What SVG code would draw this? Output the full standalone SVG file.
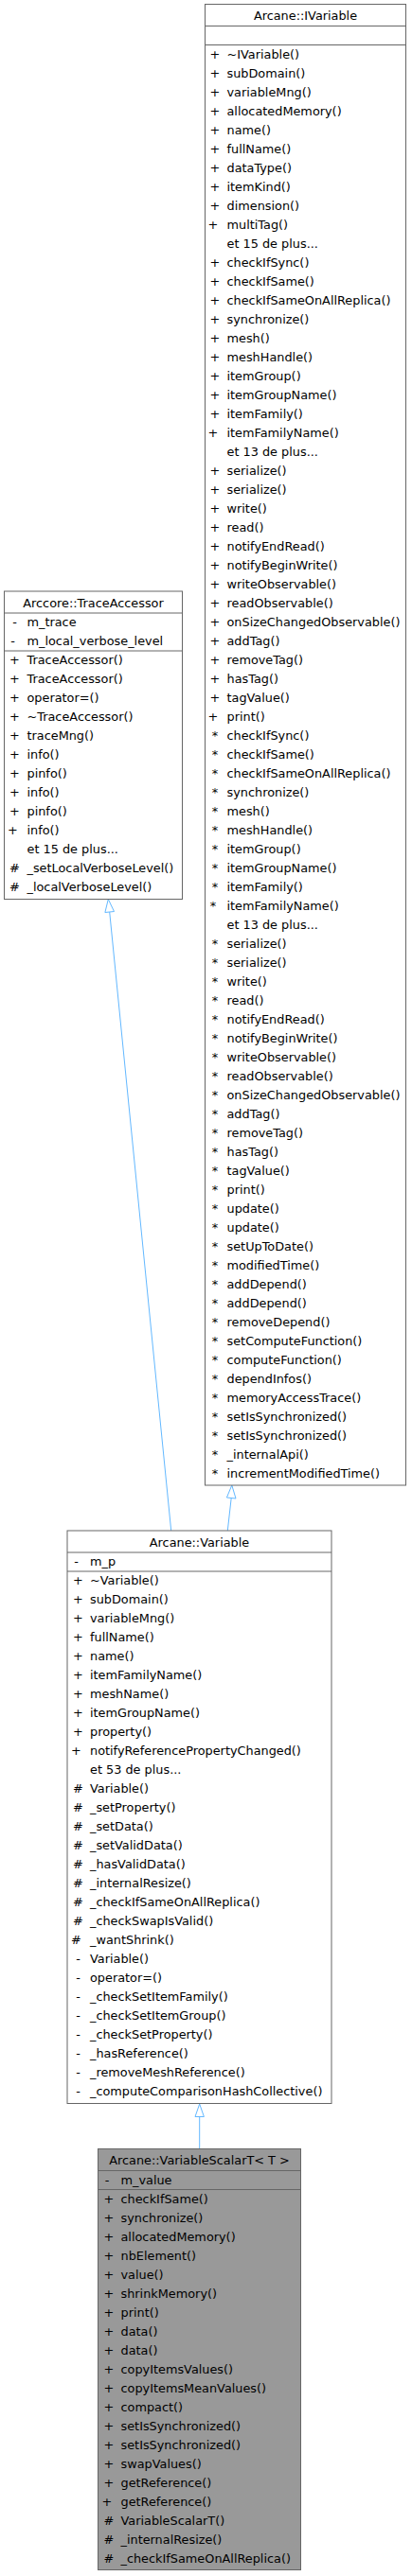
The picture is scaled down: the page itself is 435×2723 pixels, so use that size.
<svg xmlns="http://www.w3.org/2000/svg" width="435" height="2723" viewBox="0 0 435 2723">
<style>
text{font-family:"DejaVu Sans","Noto Sans",sans-serif;font-size:12.85px;fill:#000}
.t{text-anchor:middle}
.s{text-anchor:middle}
.box{fill:#fff;stroke:#666;stroke-width:1}
.cur{fill:#999;stroke:#666;stroke-width:1}
.sep{stroke:#666;stroke-width:1;fill:none}
.edge{stroke:#63b8ff;stroke-width:1;fill:none}
.head{stroke:#63b8ff;stroke-width:1;fill:#fff}
</style>
<rect width="435" height="2723" fill="#fff"/>
<g id="connectors">
<path class="edge" d="M180.7,1618 L115.7,964"/>
<polygon class="head" points="114.3,950.5 120.5,963.5 110.9,964.5"/>
<path class="edge" d="M240.3,1618 L244.2,1583.5"/>
<polygon class="head" points="244.8,1570 249.0,1584 239.4,1583"/>
<path class="edge" d="M210.7,2271.5 L210.7,2237.5"/>
<polygon class="head" points="210.7,2224 215.4,2237.5 206,2237.5"/>
</g>
<g id="node-IVariable">
<rect class="box" x="216.5" y="4.5" width="212" height="1565.5"/>
<path class="sep" d="M216.5,27.5H428.5M216.5,47.5H428.5"/>
<text class="t" x="322.5" y="21">Arcane::IVariable</text>
<text class="s">
<tspan x="227" y="61.5">+</tspan><tspan x="227" y="81.5">+</tspan><tspan x="227" y="101.5">+</tspan><tspan x="227" y="121.5">+</tspan><tspan x="227" y="141.5">+</tspan><tspan x="227" y="161.5">+</tspan><tspan x="227" y="181.5">+</tspan><tspan x="227" y="201.5">+</tspan><tspan x="227" y="221.5">+</tspan><tspan x="227" y="241.5">+</tspan>
<tspan x="227" y="281.5">+</tspan><tspan x="227" y="301.5">+</tspan><tspan x="227" y="321.5">+</tspan><tspan x="227" y="341.5">+</tspan><tspan x="227" y="361.5">+</tspan><tspan x="227" y="381.5">+</tspan><tspan x="227" y="401.5">+</tspan><tspan x="227" y="421.5">+</tspan><tspan x="227" y="441.5">+</tspan><tspan x="227" y="461.5">+</tspan>
<tspan x="227" y="501.5">+</tspan><tspan x="227" y="521.5">+</tspan><tspan x="227" y="541.5">+</tspan><tspan x="227" y="561.5">+</tspan><tspan x="227" y="581.5">+</tspan><tspan x="227" y="601.5">+</tspan><tspan x="227" y="621.5">+</tspan><tspan x="227" y="641.5">+</tspan><tspan x="227" y="661.5">+</tspan><tspan x="227" y="681.5">+</tspan><tspan x="227" y="701.5">+</tspan><tspan x="227" y="721.5">+</tspan><tspan x="227" y="741.5">+</tspan><tspan x="227" y="761.5">+</tspan>
<tspan x="227" y="781.5">*</tspan><tspan x="227" y="801.5">*</tspan><tspan x="227" y="821.5">*</tspan><tspan x="227" y="841.5">*</tspan><tspan x="227" y="861.5">*</tspan><tspan x="227" y="881.5">*</tspan><tspan x="227" y="901.5">*</tspan><tspan x="227" y="921.5">*</tspan><tspan x="227" y="941.5">*</tspan><tspan x="227" y="961.5">*</tspan>
<tspan x="227" y="1001.5">*</tspan><tspan x="227" y="1021.5">*</tspan><tspan x="227" y="1041.5">*</tspan><tspan x="227" y="1061.5">*</tspan><tspan x="227" y="1081.5">*</tspan><tspan x="227" y="1101.5">*</tspan><tspan x="227" y="1121.5">*</tspan><tspan x="227" y="1141.5">*</tspan><tspan x="227" y="1161.5">*</tspan><tspan x="227" y="1181.5">*</tspan><tspan x="227" y="1201.5">*</tspan><tspan x="227" y="1221.5">*</tspan><tspan x="227" y="1241.5">*</tspan><tspan x="227" y="1261.5">*</tspan><tspan x="227" y="1281.5">*</tspan><tspan x="227" y="1301.5">*</tspan><tspan x="227" y="1321.5">*</tspan><tspan x="227" y="1341.5">*</tspan><tspan x="227" y="1361.5">*</tspan><tspan x="227" y="1381.5">*</tspan><tspan x="227" y="1401.5">*</tspan><tspan x="227" y="1421.5">*</tspan><tspan x="227" y="1441.5">*</tspan><tspan x="227" y="1461.5">*</tspan><tspan x="227" y="1481.5">*</tspan><tspan x="227" y="1501.5">*</tspan><tspan x="227" y="1521.5">*</tspan><tspan x="227" y="1541.5">*</tspan><tspan x="227" y="1561.5">*</tspan>
</text>
<text>
<tspan x="239.5" y="61.5">~IVariable()</tspan>
<tspan x="239.5" y="81.5">subDomain()</tspan>
<tspan x="239.5" y="101.5">variableMng()</tspan>
<tspan x="239.5" y="121.5">allocatedMemory()</tspan>
<tspan x="239.5" y="141.5">name()</tspan>
<tspan x="239.5" y="161.5">fullName()</tspan>
<tspan x="239.5" y="181.5">dataType()</tspan>
<tspan x="239.5" y="201.5">itemKind()</tspan>
<tspan x="239.5" y="221.5">dimension()</tspan>
<tspan x="239.5" y="241.5">multiTag()</tspan>
<tspan x="239.5" y="261.5">et 15 de plus...</tspan>
<tspan x="239.5" y="281.5">checkIfSync()</tspan>
<tspan x="239.5" y="301.5">checkIfSame()</tspan>
<tspan x="239.5" y="321.5">checkIfSameOnAllReplica()</tspan>
<tspan x="239.5" y="341.5">synchronize()</tspan>
<tspan x="239.5" y="361.5">mesh()</tspan>
<tspan x="239.5" y="381.5">meshHandle()</tspan>
<tspan x="239.5" y="401.5">itemGroup()</tspan>
<tspan x="239.5" y="421.5">itemGroupName()</tspan>
<tspan x="239.5" y="441.5">itemFamily()</tspan>
<tspan x="239.5" y="461.5">itemFamilyName()</tspan>
<tspan x="239.5" y="481.5">et 13 de plus...</tspan>
<tspan x="239.5" y="501.5">serialize()</tspan>
<tspan x="239.5" y="521.5">serialize()</tspan>
<tspan x="239.5" y="541.5">write()</tspan>
<tspan x="239.5" y="561.5">read()</tspan>
<tspan x="239.5" y="581.5">notifyEndRead()</tspan>
<tspan x="239.5" y="601.5">notifyBeginWrite()</tspan>
<tspan x="239.5" y="621.5">writeObservable()</tspan>
<tspan x="239.5" y="641.5">readObservable()</tspan>
<tspan x="239.5" y="661.5">onSizeChangedObservable()</tspan>
<tspan x="239.5" y="681.5">addTag()</tspan>
<tspan x="239.5" y="701.5">removeTag()</tspan>
<tspan x="239.5" y="721.5">hasTag()</tspan>
<tspan x="239.5" y="741.5">tagValue()</tspan>
<tspan x="239.5" y="761.5">print()</tspan>
<tspan x="239.5" y="781.5">checkIfSync()</tspan>
<tspan x="239.5" y="801.5">checkIfSame()</tspan>
<tspan x="239.5" y="821.5">checkIfSameOnAllReplica()</tspan>
<tspan x="239.5" y="841.5">synchronize()</tspan>
<tspan x="239.5" y="861.5">mesh()</tspan>
<tspan x="239.5" y="881.5">meshHandle()</tspan>
<tspan x="239.5" y="901.5">itemGroup()</tspan>
<tspan x="239.5" y="921.5">itemGroupName()</tspan>
<tspan x="239.5" y="941.5">itemFamily()</tspan>
<tspan x="239.5" y="961.5">itemFamilyName()</tspan>
<tspan x="239.5" y="981.5">et 13 de plus...</tspan>
<tspan x="239.5" y="1001.5">serialize()</tspan>
<tspan x="239.5" y="1021.5">serialize()</tspan>
<tspan x="239.5" y="1041.5">write()</tspan>
<tspan x="239.5" y="1061.5">read()</tspan>
<tspan x="239.5" y="1081.5">notifyEndRead()</tspan>
<tspan x="239.5" y="1101.5">notifyBeginWrite()</tspan>
<tspan x="239.5" y="1121.5">writeObservable()</tspan>
<tspan x="239.5" y="1141.5">readObservable()</tspan>
<tspan x="239.5" y="1161.5">onSizeChangedObservable()</tspan>
<tspan x="239.5" y="1181.5">addTag()</tspan>
<tspan x="239.5" y="1201.5">removeTag()</tspan>
<tspan x="239.5" y="1221.5">hasTag()</tspan>
<tspan x="239.5" y="1241.5">tagValue()</tspan>
<tspan x="239.5" y="1261.5">print()</tspan>
<tspan x="239.5" y="1281.5">update()</tspan>
<tspan x="239.5" y="1301.5">update()</tspan>
<tspan x="239.5" y="1321.5">setUpToDate()</tspan>
<tspan x="239.5" y="1341.5">modifiedTime()</tspan>
<tspan x="239.5" y="1361.5">addDepend()</tspan>
<tspan x="239.5" y="1381.5">addDepend()</tspan>
<tspan x="239.5" y="1401.5">removeDepend()</tspan>
<tspan x="239.5" y="1421.5">setComputeFunction()</tspan>
<tspan x="239.5" y="1441.5">computeFunction()</tspan>
<tspan x="239.5" y="1461.5">dependInfos()</tspan>
<tspan x="239.5" y="1481.5">memoryAccessTrace()</tspan>
<tspan x="239.5" y="1501.5">setIsSynchronized()</tspan>
<tspan x="239.5" y="1521.5">setIsSynchronized()</tspan>
<tspan x="239.5" y="1541.5">_internalApi()</tspan>
<tspan x="239.5" y="1561.5">incrementModifiedTime()</tspan>
</text>
</g>
<g id="node-TraceAccessor">
<rect class="box" x="4.5" y="625" width="188" height="325.5"/>
<path class="sep" d="M4.5,648H192.5M4.5,688H192.5"/>
<text class="t" x="98.5" y="642">Arccore::TraceAccessor</text>
<text class="s">
<tspan x="15.5" y="662">-</tspan><tspan x="15.5" y="682">-</tspan>
<tspan x="15.5" y="702">+</tspan><tspan x="15.5" y="722">+</tspan><tspan x="15.5" y="742">+</tspan><tspan x="15.5" y="762">+</tspan><tspan x="15.5" y="782">+</tspan><tspan x="15.5" y="802">+</tspan><tspan x="15.5" y="822">+</tspan><tspan x="15.5" y="842">+</tspan><tspan x="15.5" y="862">+</tspan><tspan x="15.5" y="882">+</tspan>
<tspan x="15.5" y="922">#</tspan><tspan x="15.5" y="942">#</tspan>
</text>
<text>
<tspan x="28.5" y="662">m_trace</tspan>
<tspan x="28.5" y="682">m_local_verbose_level</tspan>
<tspan x="28.5" y="702">TraceAccessor()</tspan>
<tspan x="28.5" y="722">TraceAccessor()</tspan>
<tspan x="28.5" y="742">operator=()</tspan>
<tspan x="28.5" y="762">~TraceAccessor()</tspan>
<tspan x="28.5" y="782">traceMng()</tspan>
<tspan x="28.5" y="802">info()</tspan>
<tspan x="28.5" y="822">pinfo()</tspan>
<tspan x="28.5" y="842">info()</tspan>
<tspan x="28.5" y="862">pinfo()</tspan>
<tspan x="28.5" y="882">info()</tspan>
<tspan x="28.5" y="902">et 15 de plus...</tspan>
<tspan x="28.5" y="922">_setLocalVerboseLevel()</tspan>
<tspan x="28.5" y="942">_localVerboseLevel()</tspan>
</text>
</g>
<g id="node-Variable">
<rect class="box" x="71" y="1618" width="279" height="605.5"/>
<path class="sep" d="M71,1641H350M71,1661H350"/>
<text class="t" x="210.5" y="1635">Arcane::Variable</text>
<text class="s">
<tspan x="82.5" y="1655">-</tspan>
<tspan x="82.5" y="1675">+</tspan><tspan x="82.5" y="1695">+</tspan><tspan x="82.5" y="1715">+</tspan><tspan x="82.5" y="1735">+</tspan><tspan x="82.5" y="1755">+</tspan><tspan x="82.5" y="1775">+</tspan><tspan x="82.5" y="1795">+</tspan><tspan x="82.5" y="1815">+</tspan><tspan x="82.5" y="1835">+</tspan><tspan x="82.5" y="1855">+</tspan>
<tspan x="82.5" y="1895">#</tspan><tspan x="82.5" y="1915">#</tspan><tspan x="82.5" y="1935">#</tspan><tspan x="82.5" y="1955">#</tspan><tspan x="82.5" y="1975">#</tspan><tspan x="82.5" y="1995">#</tspan><tspan x="82.5" y="2015">#</tspan><tspan x="82.5" y="2035">#</tspan><tspan x="82.5" y="2055">#</tspan>
<tspan x="82.5" y="2075">-</tspan><tspan x="82.5" y="2095">-</tspan><tspan x="82.5" y="2115">-</tspan><tspan x="82.5" y="2135">-</tspan><tspan x="82.5" y="2155">-</tspan><tspan x="82.5" y="2175">-</tspan><tspan x="82.5" y="2195">-</tspan><tspan x="82.5" y="2215">-</tspan>
</text>
<text>
<tspan x="95" y="1655">m_p</tspan>
<tspan x="95" y="1675">~Variable()</tspan>
<tspan x="95" y="1695">subDomain()</tspan>
<tspan x="95" y="1715">variableMng()</tspan>
<tspan x="95" y="1735">fullName()</tspan>
<tspan x="95" y="1755">name()</tspan>
<tspan x="95" y="1775">itemFamilyName()</tspan>
<tspan x="95" y="1795">meshName()</tspan>
<tspan x="95" y="1815">itemGroupName()</tspan>
<tspan x="95" y="1835">property()</tspan>
<tspan x="95" y="1855">notifyReferencePropertyChanged()</tspan>
<tspan x="95" y="1875">et 53 de plus...</tspan>
<tspan x="95" y="1895">Variable()</tspan>
<tspan x="95" y="1915">_setProperty()</tspan>
<tspan x="95" y="1935">_setData()</tspan>
<tspan x="95" y="1955">_setValidData()</tspan>
<tspan x="95" y="1975">_hasValidData()</tspan>
<tspan x="95" y="1995">_internalResize()</tspan>
<tspan x="95" y="2015">_checkIfSameOnAllReplica()</tspan>
<tspan x="95" y="2035">_checkSwapIsValid()</tspan>
<tspan x="95" y="2055">_wantShrink()</tspan>
<tspan x="95" y="2075">Variable()</tspan>
<tspan x="95" y="2095">operator=()</tspan>
<tspan x="95" y="2115">_checkSetItemFamily()</tspan>
<tspan x="95" y="2135">_checkSetItemGroup()</tspan>
<tspan x="95" y="2155">_checkSetProperty()</tspan>
<tspan x="95" y="2175">_hasReference()</tspan>
<tspan x="95" y="2195">_removeMeshReference()</tspan>
<tspan x="95" y="2215">_computeComparisonHashCollective()</tspan>
</text>
</g>
<g id="node-VariableScalarT">
<rect class="cur" x="103.5" y="2271.5" width="214" height="445"/>
<path class="sep" d="M103.5,2294.5H317.5M103.5,2314.5H317.5"/>
<text class="t" x="210.5" y="2288">Arcane::VariableScalarT&lt; T &gt;</text>
<text class="s">
<tspan x="115" y="2308.5">-</tspan>
<tspan x="115" y="2328.5">+</tspan><tspan x="115" y="2348.5">+</tspan><tspan x="115" y="2368.5">+</tspan><tspan x="115" y="2388.5">+</tspan><tspan x="115" y="2408.5">+</tspan><tspan x="115" y="2428.5">+</tspan><tspan x="115" y="2448.5">+</tspan><tspan x="115" y="2468.5">+</tspan><tspan x="115" y="2488.5">+</tspan><tspan x="115" y="2508.5">+</tspan><tspan x="115" y="2528.5">+</tspan><tspan x="115" y="2548.5">+</tspan><tspan x="115" y="2568.5">+</tspan><tspan x="115" y="2588.5">+</tspan><tspan x="115" y="2608.5">+</tspan><tspan x="115" y="2628.5">+</tspan><tspan x="115" y="2648.5">+</tspan>
<tspan x="115" y="2668.5">#</tspan><tspan x="115" y="2688.5">#</tspan><tspan x="115" y="2708.5">#</tspan>
</text>
<text>
<tspan x="127.5" y="2308.5">m_value</tspan>
<tspan x="127.5" y="2328.5">checkIfSame()</tspan>
<tspan x="127.5" y="2348.5">synchronize()</tspan>
<tspan x="127.5" y="2368.5">allocatedMemory()</tspan>
<tspan x="127.5" y="2388.5">nbElement()</tspan>
<tspan x="127.5" y="2408.5">value()</tspan>
<tspan x="127.5" y="2428.5">shrinkMemory()</tspan>
<tspan x="127.5" y="2448.5">print()</tspan>
<tspan x="127.5" y="2468.5">data()</tspan>
<tspan x="127.5" y="2488.5">data()</tspan>
<tspan x="127.5" y="2508.5">copyItemsValues()</tspan>
<tspan x="127.5" y="2528.5">copyItemsMeanValues()</tspan>
<tspan x="127.5" y="2548.5">compact()</tspan>
<tspan x="127.5" y="2568.5">setIsSynchronized()</tspan>
<tspan x="127.5" y="2588.5">setIsSynchronized()</tspan>
<tspan x="127.5" y="2608.5">swapValues()</tspan>
<tspan x="127.5" y="2628.5">getReference()</tspan>
<tspan x="127.5" y="2648.5">getReference()</tspan>
<tspan x="127.5" y="2668.5">VariableScalarT()</tspan>
<tspan x="127.5" y="2688.5">_internalResize()</tspan>
<tspan x="127.5" y="2708.5">_checkIfSameOnAllReplica()</tspan>
</text>
</g>
</svg>
